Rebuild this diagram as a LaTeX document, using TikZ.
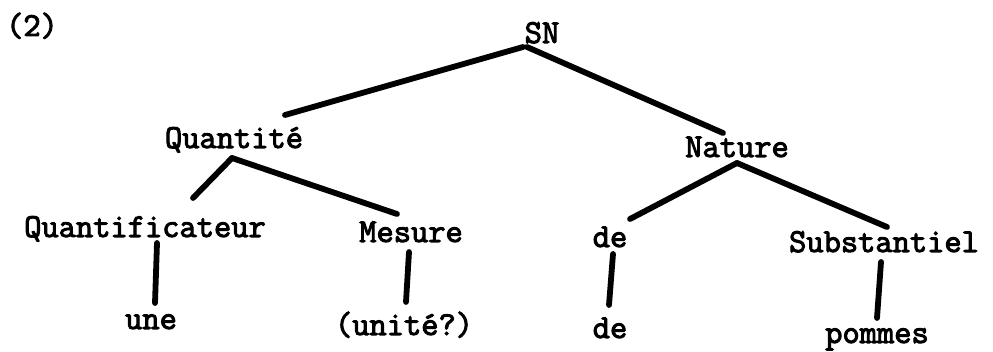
\documentclass[tikz,border=0pt]{standalone}
\usepackage{fontspec}
\newfontfamily\typew[FakeBold=3]{Latin Modern Mono}
\begin{document}
\begin{tikzpicture}[x=1pt,y=-1pt,
  lbl/.style={inner sep=0pt,anchor=base,font=\typew\fontsize{33.5}{36}\selectfont},
  br/.style={line width=5.8pt,line cap=round}]
\useasboundingbox (0,0) rectangle (993,352);
\node[lbl] (num) at (32,36) {(2)};
\node[lbl] (sn) at (542,43) {SN};
\node[lbl] (qt) at (234,148) {Quantité};
\node[lbl] (nat) at (737,157) {Nature};
\node[lbl] (qf) at (145,237) {Quantificateur};
\node[lbl] (mes) at (411,242) {Mesure};
\node[lbl] (de1) at (610,247) {de};
\node[lbl] (sub) at (884,252) {Substantiel};
\node[lbl] (une) at (151,329) {une};
\node[lbl] (uni) at (404,335) {(unité?)};
\node[lbl] (de2) at (610,338) {de};
\node[lbl] (pom) at (877,343) {pommes};
% branch points and ends
\coordinate (snL) at (523,47);
\coordinate (snR) at (527,47);
\coordinate (qtT) at (285,115);
\coordinate (natT) at (723,133);
\coordinate (qtB) at (232,158);
\coordinate (qfT) at (193,198);
\coordinate (mesT) at (397,214);
\coordinate (natB) at (737,163);
\coordinate (de1T) at (630,219);
\coordinate (subT) at (887,227);
\coordinate (qfB) at (157,243);
\coordinate (uneT) at (155,303);
\coordinate (mesB) at (409,252);
\coordinate (uniT) at (406,302);
\coordinate (de1B) at (613,254);
\coordinate (de2T) at (609,305);
\coordinate (subB) at (881,262);
\coordinate (pomT) at (877,318);
\draw[br] (snL) -- (qtT);
\draw[br] (snR) -- (natT);
\draw[br] (qtB) -- (qfT);
\draw[br] (qtB) -- (mesT);
\draw[br] (natB) -- (de1T);
\draw[br] (natB) -- (subT);
\draw[br] (qfB) -- (uneT);
\draw[br] (mesB) -- (uniT);
\draw[br] (de1B) -- (de2T);
\draw[br] (subB) -- (pomT);
\end{tikzpicture}
\end{document}
